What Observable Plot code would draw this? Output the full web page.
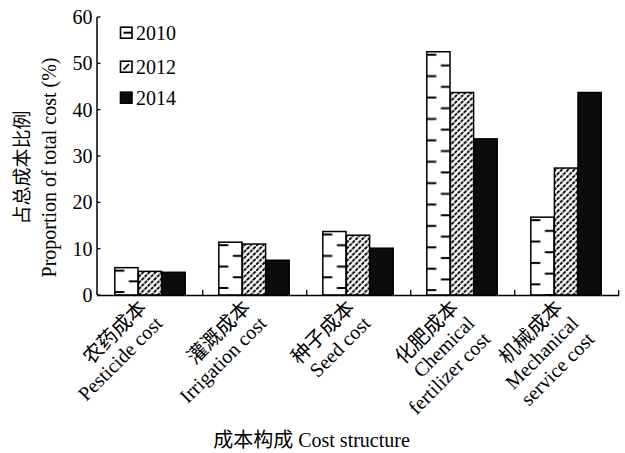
<!DOCTYPE html>
<html>
<head>
<meta charset="utf-8">
<script src="https://cdn.jsdelivr.net/npm/d3@7"></script>
<script src="https://cdn.jsdelivr.net/npm/@observablehq/plot@0.6"></script>
<style>
  html, body { margin: 0; padding: 0; background: #fff; }
  #chart svg { display: block; }
</style>
</head>
<body>
<div id="chart"></div>
<script>
// Cost categories (Chinese name + English name, one label line each)
const categories = [
  "农药成本\nPesticide cost",
  "灌溉成本\nIrrigation cost",
  "种子成本\nSeed cost",
  "化肥成本\nChemical\nfertilizer cost",
  "机械成本\nMechanical\nservice cost"
];
const years = ["2010", "2012", "2014"];

// Share of total cost (%) per category
const share2010 = [5.9, 11.4, 13.7, 52.5, 16.8];
const share2012 = [5.1, 11.0, 12.9, 43.7, 27.4];
const share2014 = [4.9, 7.5, 10.1, 33.7, 43.7];

const yTicks = [0, 10, 20, 30, 40, 50, 60];
const yTitle = ["占总成本比例", "Proportion of total cost (%)"];
const xTitle = "成本构成 Cost structure";

const series = [share2010, share2012, share2014];
const rows = categories.map((category, i) => ({
  category,
  values: series.map(s => s[i])
}));

const W = 625, H = 453;
const margin = {top: 17, right: 6, bottom: 158, left: 97};
const step = (W - margin.left - margin.right) / categories.length;
const barW = 23.6;
const groupPad = (step - years.length * barW) / 2;
const fills = ["url(#fill2010)", "url(#fill2012)", "#0b0d0d"];

const font = "'Liberation Serif', 'Noto Sans CJK SC', serif";
const tickShape = {draw(ctx, l) { ctx.moveTo(0, 0); ctx.lineTo(0, -l); }};

const plot = Plot.plot({
  width: W,
  height: H,
  marginTop: margin.top,
  marginRight: margin.right,
  marginBottom: margin.bottom,
  marginLeft: margin.left,
  style: {fontFamily: font, fontSize: "20px", background: "#fff", color: "#000"},
  x: {type: "band", domain: categories, padding: 0, axis: null},
  y: {domain: [0, 60], axis: null},
  marks: [
    // grouped bars, one mark per year, shifted inside each category band
    ...years.map((yr, j) => Plot.barY(rows, {
      x: "category",
      y: d => d.values[j],
      fill: fills[j],
      stroke: "#000",
      strokeWidth: 1.5,
      insetLeft: groupPad + j * barW,
      insetRight: step - groupPad - (j + 1) * barW
    })),
    // y tick labels
    Plot.axisY({ticks: yTicks, tickSize: 0, tickPadding: 5, label: null,
                fontSize: 20, fontFamily: font}),
    Plot.ruleY([0], {strokeWidth: 1.5}),
    // x ticks on category boundaries
    Plot.vector(categories, {x: d => d, dx: step / 2, frameAnchor: "bottom", length: 5,
                             anchor: "start", shape: tickShape, stroke: "#000", strokeWidth: 1.3}),
    // rotated category labels
    Plot.text(categories, {x: d => d, text: d => d, frameAnchor: "bottom", rotate: -45,
                           textAnchor: "end", lineAnchor: "top", dx: -14, dy: 2,
                           fontSize: 20, lineHeight: 1.12}),
    // y title (two lines)
    Plot.text([yTitle[0]], {frameAnchor: "left", textAnchor: "middle", rotate: -90,
                            dx: -75, dy: 11, fontSize: 19}),
    Plot.text([yTitle[1]], {frameAnchor: "left", textAnchor: "middle", rotate: -90,
                            dx: -48, dy: 11, fontSize: 20}),
    // x title
    Plot.text([xTitle], {frameAnchor: "bottom", dx: -47, dy: 151, fontSize: 20})
  ]
});

const svg = d3.select(plot);

// left axis line with inward ticks, placed through the y scale
const yScale = plot.scale("y");
const yAxis = svg.append("g").attr("stroke", "#000").attr("fill", "none");
yAxis.append("line")
  .attr("x1", margin.left).attr("x2", margin.left)
  .attr("y1", yScale.apply(yScale.domain[0])).attr("y2", yScale.apply(yScale.domain[1]))
  .attr("stroke-width", 1.5);
yTicks.forEach(t => {
  yAxis.append("line")
    .attr("x1", margin.left).attr("x2", margin.left + 3.5)
    .attr("y1", yScale.apply(t)).attr("y2", yScale.apply(t))
    .attr("stroke-width", 1.3);
});

// fill patterns
const defs = svg.insert("defs", ":first-child");

// 2010: staggered horizontal dashes on each bar's left and right edges
const p2010 = defs.append("pattern")
  .attr("id", "fill2010")
  .attr("patternUnits", "objectBoundingBox")
  .attr("patternContentUnits", "userSpaceOnUse")
  .attr("x", 0).attr("y", 0).attr("width", 1).attr("height", 1);
p2010.append("rect").attr("width", 40).attr("height", 300).attr("fill", "#fff");
const dashLen = 9.5, period = 21.4;
for (let k = 0; k < 14; k++) {
  p2010.append("rect").attr("x", 0).attr("y", 2 + k * period)
    .attr("width", dashLen).attr("height", 2).attr("fill", "#000");
  p2010.append("rect").attr("x", barW - dashLen).attr("y", 2 + period / 2 + k * period)
    .attr("width", dashLen).attr("height", 2).attr("fill", "#000");
}

// 2012: dashed diagonal hatching
const hs = 6.2;
const p2012 = defs.append("pattern")
  .attr("id", "fill2012")
  .attr("patternUnits", "userSpaceOnUse")
  .attr("width", hs).attr("height", hs);
p2012.append("rect").attr("width", hs).attr("height", hs).attr("fill", "#fff");
p2012.append("path")
  .attr("d", `M-1,${hs + 1} L${hs + 1},-1 M-1,1 L1,-1 M${hs - 1},${hs + 1} L${hs + 1},${hs - 1}`)
  .attr("stroke", "#000").attr("stroke-width", 1.9)
  .attr("stroke-dasharray", "3.4 0.9");

// legend
const legend = svg.append("g")
  .attr("font-family", font).attr("font-size", 20).attr("text-anchor", "start");
const legendY = [32.7, 66.7, 97.7];
years.forEach((yr, j) => {
  const g = legend.append("g").attr("transform", `translate(120.5,${legendY[j]})`);
  g.append("rect").attr("x", 0).attr("y", -5.5).attr("width", 11.5).attr("height", 11)
    .attr("fill", j === 2 ? "#0b0d0d" : "#fff").attr("stroke", "#000").attr("stroke-width", 1.6);
  if (j === 0) {
    g.append("line").attr("x1", 3).attr("x2", 11).attr("y1", 0).attr("y2", 0)
      .attr("stroke", "#000").attr("stroke-width", 2);
  } else if (j === 1) {
    g.append("line").attr("x1", 3).attr("x2", 8.5).attr("y1", 3).attr("y2", -2.5)
      .attr("stroke", "#000").attr("stroke-width", 1.8);
  }
  g.append("text").attr("x", 15.5).attr("y", 0).attr("dy", "0.35em").text(yr);
});

document.getElementById("chart").appendChild(plot);
</script>
</body>
</html>
